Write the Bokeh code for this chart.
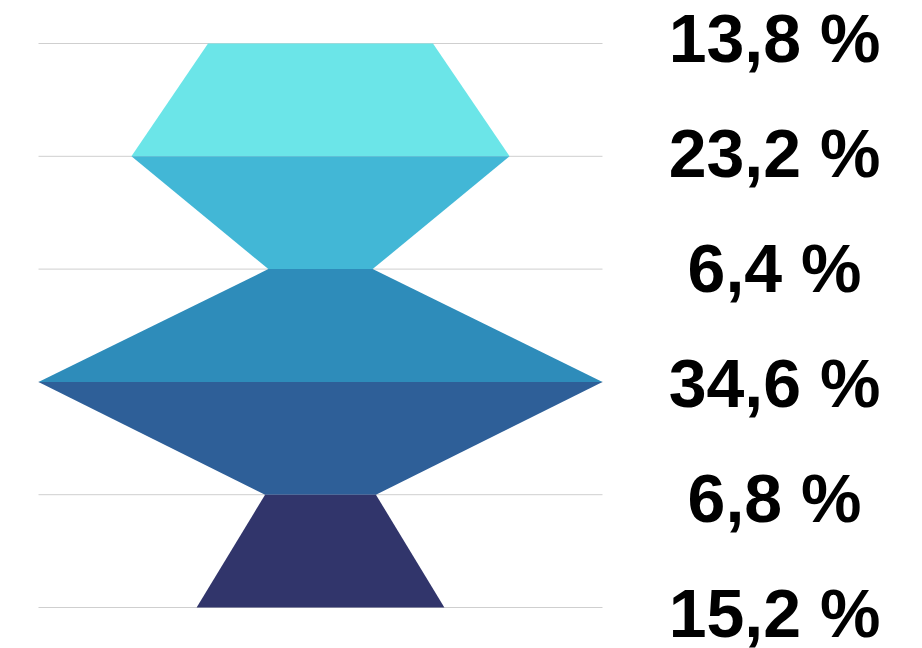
from bokeh.plotting import figure
from bokeh.models import Range1d
from bokeh.core.properties import value
from bokeh.embed import file_html
from bokeh.resources import INLINE

values = [13.8, 23.2, 6.4, 34.6, 6.8, 15.2]
labels = ["13,8 %", "23,2 %", "6,4 %", "34,6 %", "6,8 %", "15,2 %"]
colors = ["#6BE5E8", "#42B7D6", "#2E8CBA", "#2E5F98", "#31356B"]

W, H = 922, 648
px_per_unit_x = 8.15
px_per_level = 112.8
cx = 320.0
top = 43.0

p = figure(width=W, height=H, output_backend="svg", toolbar_location=None,
           x_range=Range1d(-cx / px_per_unit_x, (W - cx) / px_per_unit_x),
           y_range=Range1d((H - top) / px_per_level, -top / px_per_level),
           min_border=0)
p.axis.visible = False
p.grid.visible = False
p.outline_line_color = None
p.background_fill_color = "white"
p.border_fill_color = "white"

vmax = max(values)
n = len(values)
levels = list(range(n))

# gridlines
p.segment(x0=[-vmax] * n, x1=[vmax] * n, y0=levels, y1=levels,
          line_color="#CFCFCF", line_width=1)

# segments
xs, ys = [], []
for i in range(n - 1):
    a, b = values[i], values[i + 1]
    xs.append([-a, a, b, -b])
    ys.append([i, i, i + 1, i + 1])
p.patches(xs=xs, ys=ys, fill_color=colors, line_color=None)

# labels
label_x = [(774 - cx) / px_per_unit_x] * n
label_y = [i * (115.0 / px_per_level) + (37.0 - top) / px_per_level for i in range(n)]
p.text(x=label_x, y=label_y, text=labels, text_align="center", text_baseline="middle",
       text_font=value("Liberation Sans"), text_font_style="bold",
       text_font_size="68px", text_color="black")

open("out.html", "w").write(file_html(p, INLINE))
